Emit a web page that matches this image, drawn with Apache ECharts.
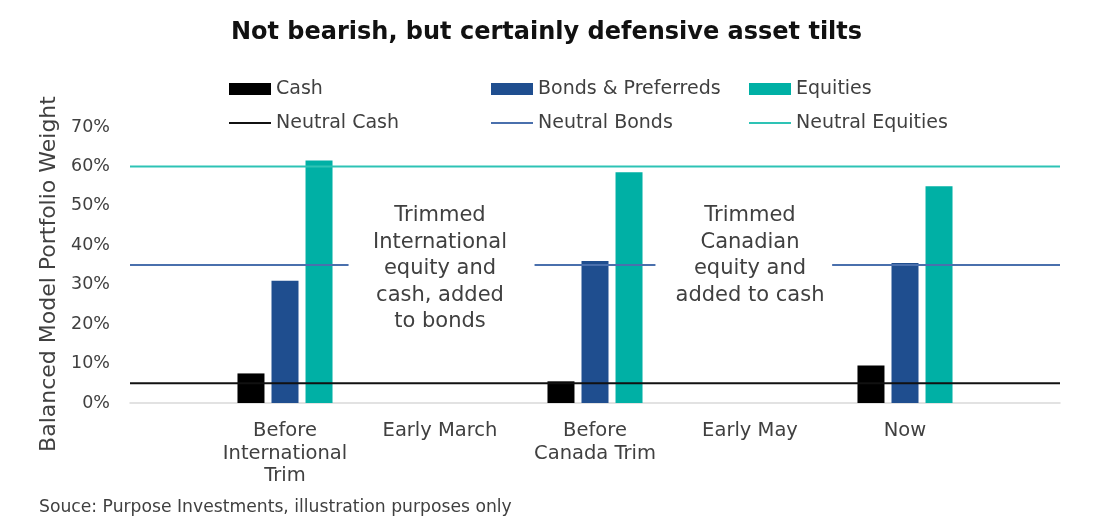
<!DOCTYPE html>
<html>
<head>
<meta charset="utf-8">
<script src="https://cdn.jsdelivr.net/npm/echarts@6/dist/echarts.min.js"></script>
<style>
  html, body { margin: 0; padding: 0; background: #fff; }
  #chart { width: 1093px; height: 532px; }
</style>
</head>
<body>
<div id="chart"></div>
<script>
// categories (blank slots at both ends give the padding seen in the original)
var categories = ['', 'Before\nInternational\nTrim', 'Early March', 'Before\nCanada Trim', 'Early May', 'Now', ''];
var cash = [null, 7.5, null, 5.5, null, 9.5, null];
var bonds = [null, 31, null, 36, null, 35.5, null];
var equities = [null, 61.5, null, 58.5, null, 55, null];

// neutral weights
var neutralCash = 5;
var neutralBonds = 35;
var neutralEquities = 60;
// neutral bonds line is broken where the notes sit (x in category units)
var bondsSegments = [[0, 1.41], [2.61, 3.39], [4.53, 6]];

var yTicks = [0, 10, 20, 30, 40, 50, 60, 70];

var notes = [
    { cat: 'Early March', top: 51, text: 'Trimmed\nInternational\nequity and\ncash, added\nto bonds' },
    { cat: 'Early May', top: 51, text: 'Trimmed\nCanadian\nequity and\nadded to cash' }
];

var FONT = 'DejaVu Sans';
var GREY = '#404040';

var chart = echarts.init(document.getElementById('chart'));

function flatLine(v) {
    return [[0, v], [6, v]];
}

var bondsLine = [];
bondsSegments.forEach(function (s, i) {
    if (i > 0) bondsLine.push([s[0] - 0.05, '-']);
    bondsLine.push([s[0], neutralBonds], [s[1], neutralBonds]);
});

// line legend entries: hide the dot ECharts puts in the middle
function lineItem(name) {
    return { name: name, itemStyle: { opacity: 0 } };
}

var option = {
    textStyle: { fontFamily: FONT },
    title: [{
        text: 'Not bearish, but certainly defensive asset tilts',
        left: 'center',
        top: 16,
        textStyle: { fontFamily: FONT, fontSize: 24, fontWeight: 'bold', color: '#111' }
    }, {
        text: 'Souce: Purpose Investments, illustration purposes only',
        left: 34,
        top: 494,
        textStyle: { fontFamily: FONT, fontSize: 17.2, fontWeight: 'normal', color: GREY }
    }],
    legend: [
        { data: [{ name: 'Cash', icon: 'rect' }, lineItem('Neutral Cash')], left: 228 },
        { data: [{ name: 'Bonds & Preferreds', icon: 'rect' }, lineItem('Neutral Bonds')], left: 490 },
        { data: [{ name: 'Equities', icon: 'rect' }, lineItem('Neutral Equities')], left: 748 }
    ].map(function (l) {
        l.top = 79;
        l.padding = 0;
        l.orient = 'vertical';
        l.itemGap = 14;
        l.itemWidth = 42;
        l.itemHeight = 12;
        l.textStyle = { fontFamily: FONT, fontSize: 19, lineHeight: 20, color: GREY };
        return l;
    }),
    grid: { left: 130, right: 33, top: 127, bottom: 129 },
    xAxis: [{
        type: 'category',
        data: categories,
        boundaryGap: false,
        axisTick: { show: false },
        axisLine: { lineStyle: { color: '#d9d9d9', width: 1.5 } },
        axisLabel: { fontFamily: FONT, fontSize: 19.5, color: GREY, lineHeight: 22.5, margin: 17, interval: 0 }
    }, {
        type: 'value',
        min: 0,
        max: 6,
        show: false
    }],
    yAxis: {
        type: 'value',
        min: yTicks[0],
        max: yTicks[yTicks.length - 1],
        interval: 10,
        name: 'Balanced Model Portfolio Weight',
        nameLocation: 'middle',
        nameGap: 70,
        nameTextStyle: { fontFamily: FONT, fontSize: 22, color: GREY, padding: [0, 18, 0, 0] },
        splitLine: { show: false },
        axisLine: { show: false },
        axisTick: { show: false },
        axisLabel: { fontFamily: FONT, fontSize: 17.5, color: GREY, margin: 20, formatter: '{value}%' }
    },
    series: [{
        name: 'Cash',
        type: 'bar',
        data: cash,
        barWidth: 27,
        barGap: '26%',
        itemStyle: { color: '#000000' }
    }, {
        name: 'Bonds & Preferreds',
        type: 'bar',
        data: bonds,
        barWidth: 27,
        itemStyle: { color: '#1f4e8f' },
        // notes hang off the middle bar so they sit on the category centre
        markPoint: {
            symbol: 'rect',
            symbolSize: 1,
            itemStyle: { color: 'rgba(0,0,0,0)' },
            label: {
                show: true,
                position: 'bottom',
                distance: 0,
                fontFamily: FONT,
                fontSize: 21,
                lineHeight: 26.5,
                color: GREY,
                align: 'center',
                formatter: function (p) { return p.data.text; }
            },
            data: notes.map(function (n) {
                return { coord: [n.cat, n.top], text: n.text };
            })
        }
    }, {
        name: 'Equities',
        type: 'bar',
        data: equities,
        barWidth: 27,
        itemStyle: { color: '#00b0a5' }
    }, {
        name: 'Neutral Cash',
        type: 'line',
        xAxisIndex: 1,
        data: flatLine(neutralCash),
        symbol: 'none',
        lineStyle: { color: '#111111', width: 2 },
        itemStyle: { color: '#111111' },
        z: 5
    }, {
        name: 'Neutral Bonds',
        type: 'line',
        xAxisIndex: 1,
        data: bondsLine,
        symbol: 'none',
        lineStyle: { color: '#4a70ad', width: 2 },
        itemStyle: { color: '#4a70ad' },
        z: 5
    }, {
        name: 'Neutral Equities',
        type: 'line',
        xAxisIndex: 1,
        data: flatLine(neutralEquities),
        symbol: 'none',
        lineStyle: { color: '#2ec3b5', width: 2 },
        itemStyle: { color: '#2ec3b5' },
        z: 5
    }]
};

chart.setOption(option);
</script>
</body>
</html>
